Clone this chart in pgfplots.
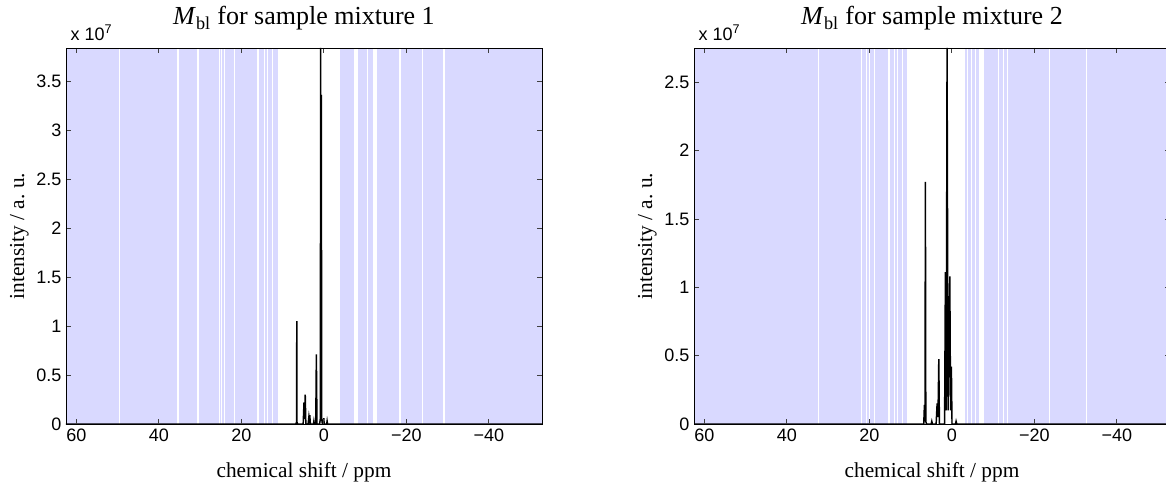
\documentclass[border=0pt]{standalone}
\usepackage{pgfplots}
\pgfplotsset{compat=1.18}
\usepackage{fontspec}
\setmainfont{Liberation Serif}
\setsansfont{Liberation Sans}
\definecolor{bandblue}{RGB}{217,217,255}
\newcommand{\band}[3]{\addplot[fill=bandblue,draw=none,forget plot] coordinates {(#1,0) (#1,#3) (#2,#3) (#2,0)};}
\pgfplotsset{
  myaxis/.style={
    scale only axis, width=357pt, height=282pt,
    x dir=reverse, xmin=-52.9, xmax=62.5, ymin=0,
    clip mode=individual,
    xtick={60,40,20,0,-20,-40}, xticklabels={60,40,20,0,−20,−40},
    tick label style={font=\sffamily\fontsize{13.5}{16}\selectfont},
    label style={font=\fontsize{16}{19}\selectfont},
    title style={font=\fontsize{19.5}{23}\selectfont, at={(axis description cs:0.5,1)}, anchor=base, yshift=11.25pt},
    xlabel style={at={(axis description cs:0.5,0)}, anchor=base, yshift=-40pt},
    ylabel style={at={(axis description cs:-0.098,0.5)}, anchor=center},
    axis on top, tick align=inside, major tick length=4pt,
    axis line style={black, line width=0.6pt},
    major tick style={black!75, line width=0.5pt},
    xlabel={chemical shift / ppm}, ylabel={intensity / a.\ u.},
  }
}
\begin{document}
\begin{tikzpicture}
\begin{axis}[myaxis, at={(0,0)}, anchor=south west, ymax=3.84,
  ytick={0,0.5,1,1.5,2,2.5,3,3.5}, yticklabels={0,0.5,1,1.5,2,2.5,3,3.5},
  title={\textit{M}\textsubscript{bl} for sample mixture 1}]
\band{62.5}{49.75}{3.84}
\band{49.5}{40.62}{3.84}
\band{40.58}{38.12}{3.84}
\band{38.08}{35.7}{3.84}
\band{35.2}{30.7}{3.84}
\band{30.3}{25.3}{3.84}
\band{25.1}{24.8}{3.84}
\band{24.6}{24.2}{3.84}
\band{24.0}{21.8}{3.84}
\band{21.5}{16.1}{3.84}
\band{15.7}{14.5}{3.84}
\band{14.3}{13.7}{3.84}
\band{13.5}{12.6}{3.84}
\band{12.4}{11.0}{3.84}
\band{-4.05}{-6.0}{3.84}
\band{-6.2}{-7.3}{3.84}
\band{-8.2}{-10.4}{3.84}
\band{-10.6}{-11.9}{3.84}
\band{-13.0}{-18.3}{3.84}
\band{-18.7}{-23.7}{3.84}
\band{-24.1}{-28.9}{3.84}
\band{-29.5}{-52.9}{3.84}
\addplot[black, line width=1.1pt] coordinates {
(62.5,0) (7.0,0) (6.75,0) (6.6,0.02) (6.55,1.05) (6.5,0.02) (6.35,0)
(5.0,0) (4.8,0.22) (4.65,0.05) (4.5,0.30) (4.35,0)
(3.8,0) (3.6,0.08) (3.5,0.05) (3.4,0.09) (3.25,0)
(2.5,0) (2.4,0.03) (2.3,0)
(1.95,0) (1.8,0.71) (1.65,0)
(1.0,0) (0.85,0.05) (0.75,3.84) (0.68,0.3) (0.6,3.36) (0.5,0.05) (0.35,0)
(0.1,0) (0.0,0.06) (-0.1,0)
(-0.7,0) (-0.8,0.03) (-0.9,0)
(-52.9,0)};
\node[anchor=base west, yshift=5.5pt, font=\sffamily\fontsize{13.5}{16}\selectfont] at (rel axis cs:0,1) {x 10\textsuperscript{7}};
\end{axis}
\begin{axis}[myaxis, at={(471pt,0)}, anchor=south west, ymax=2.75,
  ytick={0,0.5,1,1.5,2,2.5}, yticklabels={0,0.5,1,1.5,2,2.5},
  title={\textit{M}\textsubscript{bl} for sample mixture 2}]
\band{62.5}{50.92}{2.75}
\band{50.88}{38.52}{2.75}
\band{38.48}{32.32}{2.75}
\band{32.28}{31.52}{2.75}
\band{31.48}{30.32}{2.75}
\band{30.28}{26.32}{2.75}
\band{26.28}{25.12}{2.75}
\band{25.08}{22.1}{2.75}
\band{21.7}{20.7}{2.75}
\band{20.5}{20.1}{2.75}
\band{19.9}{18.9}{2.75}
\band{18.7}{15.5}{2.75}
\band{15.1}{13.95}{2.75}
\band{13.85}{13.25}{2.75}
\band{13.15}{12.0}{2.75}
\band{11.9}{10.85}{2.75}
\band{-3.2}{-3.7}{2.75}
\band{-3.9}{-4.7}{2.75}
\band{-4.9}{-5.6}{2.75}
\band{-5.8}{-6.5}{2.75}
\band{-7.8}{-11.2}{2.75}
\band{-11.4}{-12.4}{2.75}
\band{-12.6}{-13.5}{2.75}
\band{-13.7}{-18.95}{2.75}
\band{-19.05}{-23.68}{2.75}
\band{-23.72}{-27.45}{2.75}
\band{-27.55}{-32.65}{2.75}
\band{-32.75}{-39.78}{2.75}
\band{-39.82}{-52.9}{2.75}
\addplot[black, line width=1.1pt] coordinates {
(62.5,0) (7.0,0) (6.8,0) (6.64,0.14) (6.5,0.02) (6.4,1.77) (6.3,0.02) (6.15,0)
(5.0,0) (4.85,0.02) (4.7,0)
(3.8,0) (3.56,0.15) (3.35,0.05) (3.15,0.475) (3.0,0)
(1.75,0) (1.55,1.11) (1.35,0.1) (1.15,2.75) (0.9,0.1) (0.48,1.08) (0.3,0.1) (0.1,0.42) (-0.05,0)
(-0.9,0) (-1.04,0.02) (-1.2,0)
(-52.9,0)};
\node[anchor=base west, yshift=5.5pt, font=\sffamily\fontsize{13.5}{16}\selectfont] at (rel axis cs:0,1) {x 10\textsuperscript{7}};
\end{axis}
\pgfresetboundingbox
\useasboundingbox (-49.5pt,-48.75pt) rectangle (825pt,318pt);
\end{tikzpicture}
\end{document}
